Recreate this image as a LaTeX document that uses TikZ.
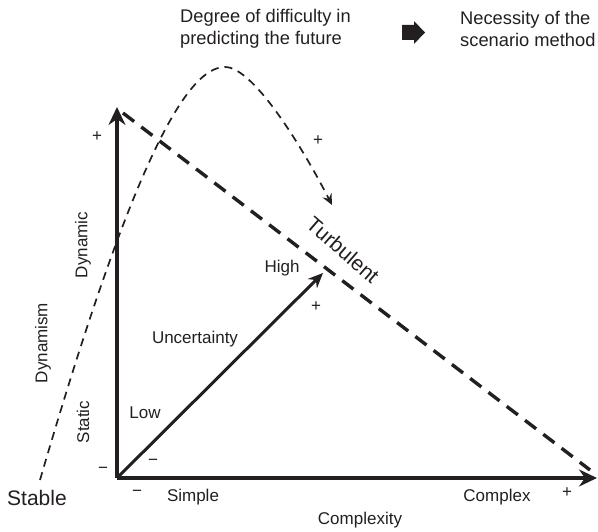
\documentclass[tikz,border=0pt]{standalone}
\usepackage{fontspec}
\setmainfont{Liberation Sans}
\usetikzlibrary{arrows.meta}
\definecolor{ink}{HTML}{231F20}
\begin{document}
\begin{tikzpicture}[x=1pt,y=1pt,
  lbl/.style={inner sep=0pt, text=ink, font=\fontsize{17}{20}\selectfont},
  headlbl/.style={inner sep=0pt, text=ink, font=\fontsize{18.3}{22}\selectfont},
  biglbl/.style={inner sep=0pt, text=ink, font=\fontsize{21}{24}\selectfont},
  axis/.style={draw=ink, line width=3.6pt, -{Stealth[length=18pt,width=17pt,inset=6pt]}},
  uarrow/.style={draw=ink, line width=3pt, -{Stealth[length=15pt,width=13pt,inset=5pt]}},
  bound/.style={draw=ink, line width=3.4pt, dash pattern=on 14pt off 9pt},
  trend/.style={draw=ink, line width=1.7pt, dash pattern=on 8pt off 6pt,
    -{Stealth[length=11pt,width=10pt,inset=4pt]}}]
\useasboundingbox (0,0) rectangle (598,531);

% axes and diagonals
\coordinate (O) at (117,53);
\coordinate (Ytop) at (117,424);
\coordinate (Xend) at (597,53);
\coordinate (Bstart) at (123,418);
\coordinate (Bend) at (590,61);
\coordinate (Uend) at (323,258);
\draw[axis] (O) -- (Ytop);
\draw[axis] (O) -- (Xend);
\draw[bound] (Bstart) -- (Bend);
\draw[uarrow] (O) -- (Uend);

% difficulty curve
\coordinate (Cstart) at (40,51);
\coordinate (Cpeak) at (225,464);
\coordinate (Cend) at (332,326);
\draw[trend] (Cstart) .. controls (130,360) and (185,464) .. (Cpeak)
  .. controls (255,464) and (307,375) .. (Cend);

% heading
\node[headlbl, anchor=west, align=left] (deg) at (180,502)
  {Degree of difficulty in\\predicting the future};
\fill[ink] (402,506) -- (414,506) -- (414,510) -- (425,498.5) -- (414,487)
  -- (414,491) -- (402,491) -- cycle;
\node[headlbl, anchor=west, align=left] (nec) at (460,502)
  {Necessity of the\\scenario method};

% vertical axis labels
\node[lbl] (yplus) at (97,394) {+};
\node[lbl, rotate=90] (dyn) at (83,286) {Dynamic};
\node[lbl, rotate=90] (dynism) at (43,188) {Dynamism};
\node[lbl, rotate=90] (stat) at (83,109) {Static};
\node[lbl] (yminus) at (103,61) {−};
\node[biglbl] (stable) at (37,33) {Stable};

% horizontal axis labels
\node[lbl] (xminus) at (137,38) {−};
\node[lbl] (simple) at (193,34) {Simple};
\node[lbl] (complex) at (497,34) {Complex};
\node[lbl] (xplus) at (567,38) {+};
\node[lbl] (cplx) at (360,11) {Complexity};

% uncertainty labels
\node[lbl] (low) at (145,118) {Low};
\node[lbl] (uminus) at (153,69) {−};
\node[lbl] (unc) at (195,192) {Uncertainty};
\node[lbl] (high) at (282,263) {High};
\node[lbl] (uplus) at (316,224) {+};
\node[lbl] (cplus) at (318,390) {+};
\node[biglbl, rotate=-41] (turb) at (343,281) {Turbulent};
\end{tikzpicture}
\end{document}
